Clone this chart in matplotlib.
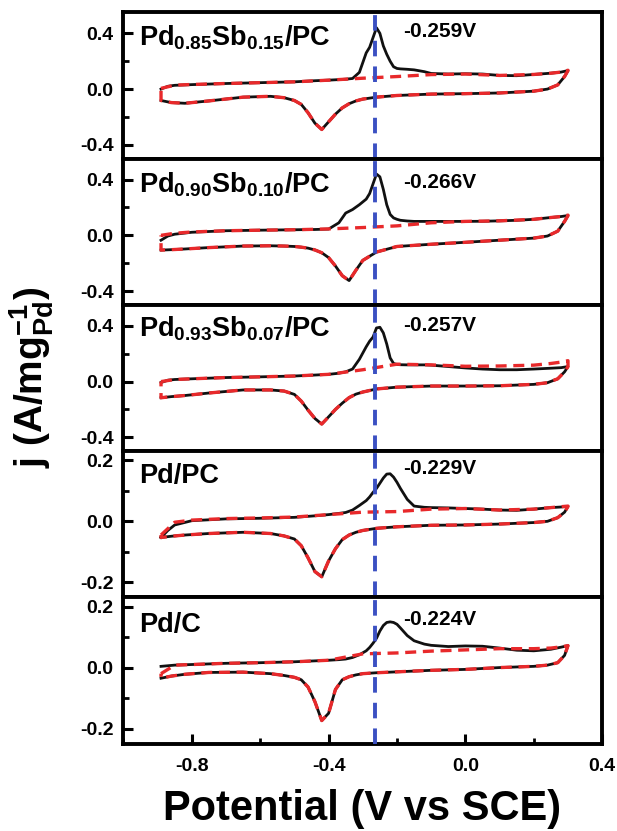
import matplotlib
matplotlib.use("Agg")
import matplotlib.pyplot as plt
from matplotlib.ticker import MultipleLocator

plt.rcParams['font.family'] = ['Liberation Sans', 'DejaVu Sans']
plt.rcParams['font.weight'] = 'bold'
plt.rcParams['mathtext.fontset'] = 'custom'
plt.rcParams['mathtext.rm'] = 'Liberation Sans:bold'
plt.rcParams['mathtext.it'] = 'Liberation Sans:bold'
plt.rcParams['mathtext.bf'] = 'Liberation Sans:bold'
plt.rcParams['mathtext.default'] = 'rm'

# potential grids (V vs SCE)
x_up = [-0.89, -0.87, -0.85, -0.80, -0.70, -0.60, -0.50, -0.44, -0.40, -0.37,
        -0.35, -0.33, -0.31, -0.29, -0.28, -0.27, -0.26, -0.25, -0.24, -0.23,
        -0.22, -0.21, -0.20, -0.19, -0.17, -0.15, -0.12, -0.10, -0.05, 0.00,
        0.05, 0.10, 0.15, 0.20, 0.25, 0.28, 0.30]
x_base = [-0.89, -0.85, -0.80, -0.70, -0.60, -0.50, -0.40, -0.30, -0.20, -0.10,
          0.00, 0.10, 0.20, 0.25, 0.28, 0.30]
x_down = [0.30, 0.29, 0.27, 0.24, 0.20, 0.10, 0.00, -0.10, -0.20, -0.26,
          -0.30, -0.32, -0.34, -0.36, -0.38, -0.40, -0.42, -0.44, -0.46, -0.48,
          -0.50, -0.53, -0.57, -0.65, -0.75, -0.82, -0.86, -0.89]

labels = [r'Pd$_{0.85}$Sb$_{0.15}$/PC', r'Pd$_{0.90}$Sb$_{0.10}$/PC',
          r'Pd$_{0.93}$Sb$_{0.07}$/PC', 'Pd/PC', 'Pd/C']
peak_labels = ['-0.259V', '-0.266V', '-0.257V', '-0.229V', '-0.224V']

# first cycle, forward scan (with stripping peak)
up_1 = [0.000, 0.020, 0.027, 0.032, 0.040, 0.046, 0.052, 0.060, 0.064, 0.068,
        0.071, 0.076, 0.120, 0.260, 0.300, 0.370, 0.440, 0.400, 0.310, 0.250,
        0.200, 0.160, 0.148, 0.145, 0.142, 0.138, 0.125, 0.112, 0.108, 0.110,
        0.108, 0.098, 0.096, 0.105, 0.114, 0.122, 0.133]
up_2 = [-0.035, -0.005, 0.008, 0.022, 0.033, 0.037, 0.040, 0.042, 0.045, 0.090,
        0.160, 0.185, 0.220, 0.260, 0.300, 0.370, 0.440, 0.420, 0.330, 0.220,
        0.150, 0.125, 0.115, 0.108, 0.103, 0.100, 0.100, 0.100, 0.100, 0.100,
        0.101, 0.104, 0.108, 0.115, 0.128, 0.135, 0.142]
up_3 = [-0.007, 0.010, 0.015, 0.020, 0.029, 0.034, 0.040, 0.047, 0.052, 0.060,
        0.070, 0.090, 0.160, 0.250, 0.290, 0.320, 0.385, 0.390, 0.350, 0.270,
        0.170, 0.130, 0.123, 0.121, 0.120, 0.120, 0.120, 0.118, 0.108, 0.098,
        0.090, 0.085, 0.085, 0.090, 0.096, 0.100, 0.108]
up_4 = [-0.053, -0.030, -0.012, 0.002, 0.008, 0.010, 0.013, 0.018, 0.022, 0.026,
        0.029, 0.037, 0.052, 0.068, 0.080, 0.095, 0.108, 0.125, 0.142, 0.155,
        0.156, 0.145, 0.128, 0.108, 0.072, 0.050, 0.046, 0.045, 0.044, 0.042,
        0.040, 0.037, 0.036, 0.040, 0.045, 0.047, 0.049]
up_5 = [0.004, 0.006, 0.008, 0.010, 0.014, 0.016, 0.019, 0.022, 0.024, 0.026,
        0.028, 0.033, 0.042, 0.055, 0.066, 0.080, 0.096, 0.120, 0.138, 0.148,
        0.150, 0.148, 0.142, 0.130, 0.105, 0.088, 0.077, 0.073, 0.069, 0.071,
        0.070, 0.064, 0.057, 0.055, 0.060, 0.067, 0.072]

# second cycle, forward scan (no peak)
base_1 = [0.005, 0.028, 0.033, 0.040, 0.046, 0.052, 0.064, 0.078, 0.090, 0.104,
          0.108, 0.098, 0.105, 0.114, 0.122, 0.135]
base_2 = [0.000, 0.015, 0.024, 0.033, 0.037, 0.040, 0.046, 0.056, 0.068, 0.090,
          0.100, 0.104, 0.115, 0.128, 0.135, 0.145]
base_3 = [0.000, 0.015, 0.020, 0.029, 0.034, 0.040, 0.052, 0.085, 0.125, 0.120,
          0.110, 0.112, 0.118, 0.130, 0.140, 0.150]
base_4 = [-0.045, -0.003, 0.004, 0.009, 0.011, 0.014, 0.022, 0.030, 0.032, 0.040,
          0.042, 0.037, 0.040, 0.045, 0.048, 0.050]
base_5 = [-0.020, 0.008, 0.010, 0.014, 0.016, 0.019, 0.024, 0.045, 0.048, 0.054,
          0.058, 0.062, 0.062, 0.064, 0.068, 0.072]

# reverse scan (both cycles overlap)
down_1 = [0.133, 0.090, 0.030, 0.000, -0.015, -0.028, -0.033, -0.036, -0.046, -0.058,
          -0.072, -0.085, -0.105, -0.135, -0.180, -0.235, -0.290, -0.245, -0.170, -0.110,
          -0.082, -0.062, -0.052, -0.058, -0.085, -0.102, -0.097, -0.082]
down_2 = [0.142, 0.100, 0.030, -0.005, -0.020, -0.035, -0.050, -0.064, -0.080, -0.120,
          -0.180, -0.250, -0.325, -0.290, -0.220, -0.160, -0.125, -0.105, -0.092, -0.085,
          -0.080, -0.077, -0.075, -0.077, -0.088, -0.098, -0.103, -0.106]
down_3 = [0.108, 0.070, 0.020, -0.008, -0.020, -0.030, -0.032, -0.032, -0.040, -0.053,
          -0.075, -0.090, -0.115, -0.155, -0.200, -0.253, -0.305, -0.265, -0.205, -0.140,
          -0.092, -0.068, -0.060, -0.060, -0.082, -0.100, -0.108, -0.116]
down_4 = [0.049, 0.030, 0.012, 0.000, -0.004, -0.009, -0.012, -0.013, -0.018, -0.023,
          -0.030, -0.036, -0.045, -0.060, -0.090, -0.130, -0.182, -0.165, -0.120, -0.080,
          -0.058, -0.048, -0.040, -0.036, -0.040, -0.045, -0.049, -0.053]
down_5 = [0.072, 0.040, 0.016, 0.008, 0.004, 0.000, -0.006, -0.009, -0.014, -0.017,
          -0.020, -0.024, -0.030, -0.040, -0.072, -0.150, -0.174, -0.112, -0.064, -0.040,
          -0.032, -0.026, -0.020, -0.015, -0.016, -0.022, -0.028, -0.035]

ups = [up_1, up_2, up_3, up_4, up_5]
bases = [base_1, base_2, base_3, base_4, base_5]
downs = [down_1, down_2, down_3, down_4, down_5]

peak_line = -0.265
ylims = [(-0.50, 0.55), (-0.50, 0.55), (-0.50, 0.55), (-0.25, 0.23), (-0.25, 0.23)]
label_y = [0.37, 0.36, 0.38, 0.15, 0.14]
peak_y = [0.41, 0.38, 0.40, 0.172, 0.158]

fig, axes = plt.subplots(5, 1, sharex=True, figsize=(6.17, 8.31), dpi=100)
fig.subplots_adjust(left=0.2, right=0.976, bottom=0.105, top=0.985, hspace=0)

for i, ax in enumerate(axes):
    ax.plot(x_up + x_down, ups[i] + downs[i], color='#111111', lw=2.0, zorder=2)
    red, = ax.plot(x_base + x_down + [x_base[0]], bases[i] + downs[i] + [bases[i][0]],
                   color='#e8292b', lw=2.4, zorder=3)
    red.set_dashes([3.3, 2.0])
    blue = ax.axvline(peak_line, color='#3b50c2', lw=2.8, zorder=4)
    blue.set_dashes([4.0, 2.6])

    ax.set_xlim(-1.0, 0.4)
    ax.set_ylim(*ylims[i])
    if i < 3:
        ax.set_yticks([-0.4, 0.0, 0.4])
        ax.yaxis.set_minor_locator(MultipleLocator(0.2))
    else:
        ax.set_yticks([-0.2, 0.0, 0.2])
        ax.yaxis.set_minor_locator(MultipleLocator(0.1))
    ax.set_xticks([-0.8, -0.4, 0.0, 0.4])
    ax.xaxis.set_minor_locator(MultipleLocator(0.2))
    ax.yaxis.set_major_formatter(plt.FuncFormatter(lambda v, p: f'{v:.1f}'))
    ax.xaxis.set_major_formatter(plt.FuncFormatter(lambda v, p: f'{v:.1f}'))

    for s in ax.spines.values():
        s.set_linewidth(2.8)
    ax.tick_params(which='major', direction='in', length=7, width=2.2,
                   labelsize=14)
    ax.tick_params(which='minor', direction='in', length=4.5, width=2.0)
    ax.tick_params(axis='y', which='major', pad=7)
    ax.tick_params(axis='x', which='major', pad=10)
    ax.tick_params(axis='x', which='both', bottom=(i == 4), top=False)

    ax.text(-0.955, label_y[i], labels[i], fontsize=19.5, fontweight='bold',
            ha='left', va='center')
    ax.text(-0.182, peak_y[i], peak_labels[i], fontsize=15, fontweight='bold',
            ha='left', va='center')

fig.text(0.587, 0.003, 'Potential (V vs SCE)', fontsize=30, fontweight='bold',
         ha='center', va='bottom')
fig.text(0.052, 0.546, r'j (A/mg$_{Pd}^{-1}$)', fontsize=28, fontweight='bold',
         rotation=90, ha='center', va='center')

fig.savefig('out.png', dpi=100)
